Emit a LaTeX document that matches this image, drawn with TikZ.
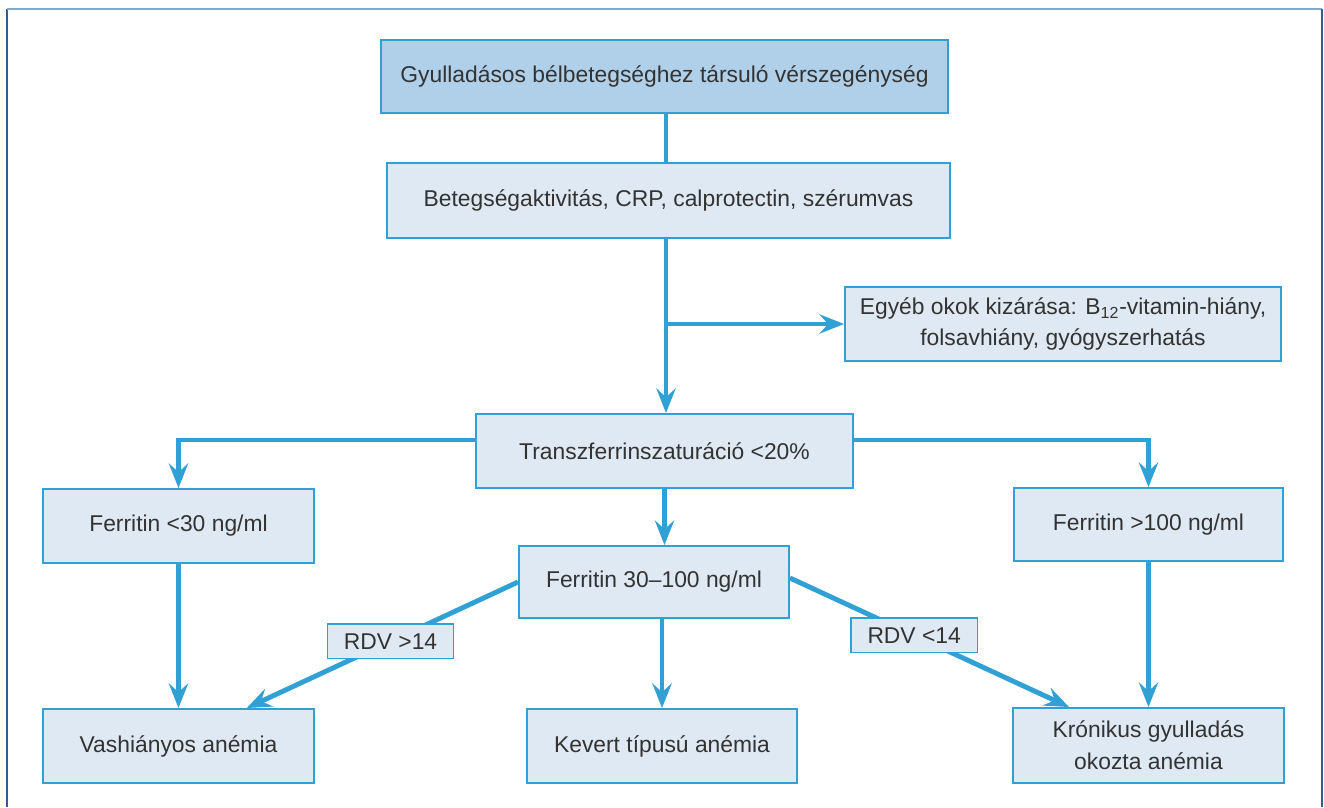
\documentclass[tikz,border=0pt]{standalone}
\usepackage{fontspec}
\setmainfont{Liberation Sans}
\usepackage{xcolor}
\usetikzlibrary{arrows.meta,calc}
\definecolor{flowline}{HTML}{31A0D4}
\definecolor{boxfill}{HTML}{DEE9F4}
\definecolor{topfill}{HTML}{B0D0E9}
\definecolor{boxtext}{HTML}{333333}
\definecolor{frameside}{HTML}{2A6096}
\definecolor{frametop}{HTML}{85A9CC}

\tikzset{
	box/.style={draw=flowline, fill=boxfill, line width=1.1pt, text=boxtext, align=center,
		inner sep=0pt, minimum height=1.48cm, font=\fontsize{13}{18}\selectfont},
	lbl/.style={box, line width=0.8pt, minimum width=2.53cm, minimum height=0.69cm},
	conn/.style={draw=flowline, line width=2.8pt},
}

\begin{document}
\begin{tikzpicture}[->,>={Stealth[length=14pt,width=11pt,inset=5pt]}]
		\useasboundingbox (0,0) rectangle (26.48,-16.14);
		% frame
		\draw[-,frameside,line width=1pt] (0.14,-16.14) -- (0.14,-0.18);
		\draw[-,frametop,line width=1.4pt] (0.14,-0.18) -- (26.44,-0.18);
		\draw[-,frameside,line width=1pt] (26.44,-0.18) -- (26.44,-16.14);

		\node[box,fill=topfill,minimum width=11.34cm,minimum height=1.46cm] (top) at (13.29,-1.53) {Gyulladásos bélbetegséghez társuló vérszegénység};
		\node[box,minimum width=11.26cm,minimum height=1.5cm] (act) at (13.37,-4.01) {Betegségaktivitás, CRP, calprotectin, szérumvas};
		\node[box,minimum width=8.72cm] (other) at (21.26,-6.48) {Egyéb okok kizárása: B\textsubscript{12}-vitamin-hiány,\\folsavhiány, gyógyszerhatás};
		\node[box,minimum width=7.54cm] (tsat) at (13.29,-9.02) {Transzferrinszaturáció <20\%};
		\node[box,minimum width=5.42cm] (flow) at (3.57,-10.52) {Ferritin <30 ng/ml};
		\node[box,minimum width=5.38cm,minimum height=1.46cm] (fhigh) at (22.97,-10.49) {Ferritin >100 ng/ml};
		\node[box,minimum width=5.4cm,minimum height=1.44cm] (fmid) at (13.08,-11.64) {Ferritin 30–100 ng/ml};
		\node[box,minimum width=5.42cm] (ida) at (3.57,-14.92) {Vashiányos anémia};
		\node[box,minimum width=5.4cm] (mixed) at (13.24,-14.92) {Kevert típusú anémia};
		\node[box,minimum width=5.42cm,minimum height=1.5cm] (acd) at (22.97,-14.91) {Krónikus gyulladás\\okozta anémia};

		\coordinate (split) at (13.32,-6.48);

		\draw[-,conn] (top.south -| split) -- (act.north -| split);
		\draw[conn] (act.south -| split) -- (tsat.north -| split);
		\draw[conn] (split) -- (other.west);
		\draw[conn] ([yshift=0.22cm]tsat.west) -| (flow.north);
		\draw[conn] ([yshift=0.22cm]tsat.east) -| (fhigh.north);
		\draw[conn] (tsat.south) -- (tsat.south |- fmid.north);
		\draw[conn] (fmid.south -| mixed.north) -- (mixed.north);
		\draw[conn] (flow) -- (ida);
		\draw[conn] (fhigh) -- (acd);
		\draw[conn] (fmid.west) -- node[lbl,pos=0.47] (rdvhi) {RDV >14} ($(ida.north)!0.5!(ida.north east)$);
		\draw[conn] ([yshift=0.08cm]fmid.east) -- node[lbl,pos=0.445] (rdvlo) {RDV <14} ([xshift=1.14cm]acd.north west);
	\end{tikzpicture}
\end{document}
